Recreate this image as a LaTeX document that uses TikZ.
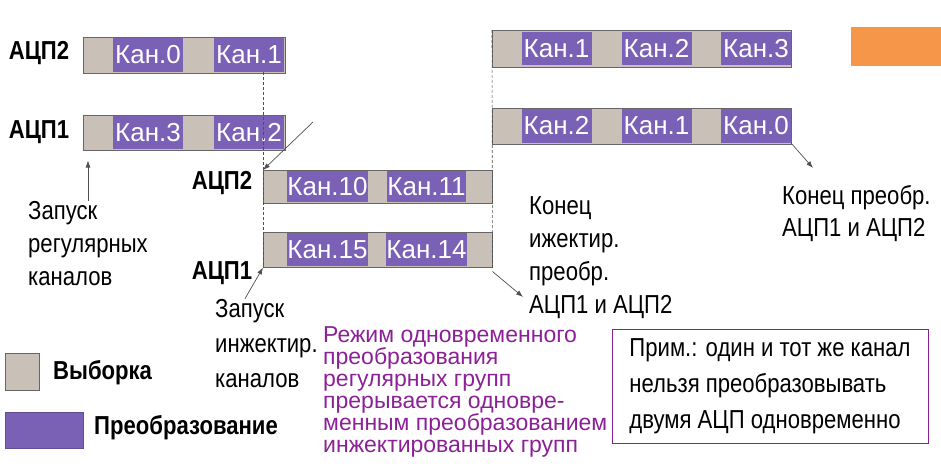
\documentclass[tikz,border=0pt]{standalone}
\usepackage{fontspec}
\usetikzlibrary{arrows.meta}
\setmainfont{Liberation Sans}
\newfontfamily\narrowfont[FakeStretch=0.85]{Liberation Sans}
\definecolor{smpgray}{RGB}{201,192,184}
\definecolor{convviolet}{RGB}{122,97,182}
\definecolor{notemagenta}{RGB}{140,32,150}
\definecolor{markorange}{RGB}{245,150,72}
\definecolor{linegray}{RGB}{80,80,80}
\begin{document}
\begin{tikzpicture}[x=1pt,y=-1pt,
  bar/.style={draw=gray!80!black,line width=0.5pt,fill=smpgray,anchor=north west,inner sep=0pt},
  kan/.style={fill=convviolet,text=white,minimum width=70pt,inner sep=0pt,font=\fontsize{26}{26}\selectfont},
  adc/.style={font=\narrowfont\bfseries\fontsize{26}{26}\selectfont,inner sep=0pt},
  lbl/.style={font=\narrowfont\fontsize{26}{33}\selectfont,align=left,anchor=base west,inner sep=0pt},
  guide/.style={densely dashed,linegray,line width=0.6pt},
  pointer/.style={-{Latex[length=7pt,width=5pt]},linegray,line width=0.7pt}]
\useasboundingbox (0,0) rectangle (941,468);

% regular groups, left
\node[adc] (adcA2) at (39,53) {АЦП2};
\node[adc] (adcA1) at (39,132) {АЦП1};
\node[bar,minimum width=202pt,minimum height=36pt] (barA2) at (83,37) {};
\node[kan,minimum height=34pt] (kA0) at (148,55) {Кан.0};
\node[kan,minimum height=34pt] (kA1) at (249,55) {Кан.1};
\node[bar,minimum width=202pt,minimum height=35pt] (barA1) at (83,115) {};
\node[kan,minimum height=33pt] (kA3) at (148,132.5) {Кан.3};
\node[kan,minimum height=33pt] (kA2) at (249,132.5) {Кан.2};

% injected groups, middle
\node[adc] (adcM2) at (222,183) {АЦП2};
\node[adc] (adcM1) at (222,273) {АЦП1};
\node[bar,minimum width=229pt,minimum height=33pt] (barM2) at (263,170) {};
\node[kan,minimum height=31pt] (kM10) at (327.5,186.5) {Кан.10};
\node[kan,minimum height=31pt] (kM11) at (426.5,186.5) {Кан.11};
\node[bar,minimum width=229pt,minimum height=35pt] (barM1) at (263,232) {};
\node[kan,minimum height=33pt] (kM15) at (327.5,249.5) {Кан.15};
\node[kan,minimum height=33pt] (kM14) at (426.5,249.5) {Кан.14};

% regular groups, right
\node[bar,minimum width=299pt,minimum height=37pt] (barR2) at (492,30) {};
\node[kan,minimum height=33pt] (kR1) at (556.5,48.5) {Кан.1};
\node[kan,minimum height=33pt] (kR2) at (656.5,48.5) {Кан.2};
\node[kan,minimum height=33pt] (kR3) at (756,48.5) {Кан.3};
\node[bar,minimum width=299pt,minimum height=36pt] (barR1) at (492,108) {};
\node[kan,minimum height=34pt] (kR2b) at (556.5,126) {Кан.2};
\node[kan,minimum height=34pt] (kR1b) at (656.5,126) {Кан.1};
\node[kan,minimum height=34pt] (kR0) at (756,126) {Кан.0};

\fill[markorange] (851,27) rectangle (941,66);

\draw[guide] (kA1.south -| barM2.west) -- (barM1.south west);
\draw[guide] (barR2.north west) -- (barM1.south east);

% texts (anchored on the baseline of the last line)
\node[lbl] (startreg) at (28,285) {Запуск\\регулярных\\каналов};
\node[lbl,font=\narrowfont\fontsize{26}{35}\selectfont] (startinj) at (215,387) {Запуск\\инжектир.\\каналов};
\node[lbl] (endinj) at (529,313) {Конец\\ижектир.\\преобр.\\АЦП1 и АЦП2};
\node[lbl,font=\narrowfont\fontsize{26}{32}\selectfont] (endall) at (782,236) {Конец преобр.\\АЦП1 и АЦП2};
\node[lbl,font=\fontsize{23}{22}\selectfont,text=notemagenta] (regnote) at (323,452) {Режим одновременного\\преобразования\\регулярных групп\\прерывается одновре-\\менным преобразованием\\инжектированных групп};
\node[draw=notemagenta,line width=0.8pt,minimum width=316pt,minimum height=114pt,align=left,inner sep=0pt,font=\narrowfont\fontsize{26}{36}\selectfont] (note) at (770,386) {Прим.: один и тот же канал\\нельзя преобразовывать\\двумя АЦП одновременно};

% pointers
\coordinate (c2) at (313,122);
\coordinate (c4) at (523,297);
\coordinate (c5) at (813,168);
\draw[pointer] ([xshift=5pt]barA1.south west |- startreg.north) -- ([xshift=5pt,yshift=-10pt]barA1.south west);
\draw[pointer] (c2) -- (barM2.north west);
\draw[pointer] ([xshift=30pt]startinj.north west) -- (barM1.south west);
\draw[pointer] ([yshift=-4pt]barM1.south east) -- (c4);
\draw[pointer] (kR0.south east) -- (c5);

% legend
\node[bar,minimum width=34pt,minimum height=37pt] (legsmp) at (5,353) {};
\node[adc,anchor=west] (legsmptxt) at (53,373) {Выборка};
\node[bar,draw=convviolet!80!black,fill=convviolet,minimum width=78pt,minimum height=36pt] (legconv) at (5,412) {};
\node[adc,anchor=west] (legconvtxt) at (94,428) {Преобразование};
\end{tikzpicture}
\end{document}
